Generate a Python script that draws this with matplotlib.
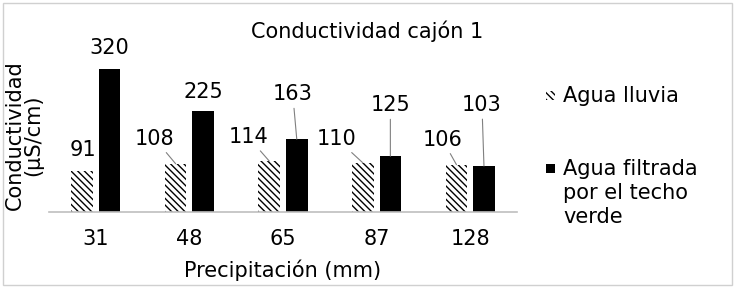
import matplotlib
matplotlib.use("Agg")
import matplotlib.pyplot as plt
import matplotlib.patches as mpatches
import numpy as np

# data
categorias = ["31", "48", "65", "87", "128"]
agua_lluvia = [91, 108, 114, 110, 106]
agua_filtrada = [320, 225, 163, 125, 103]

# label offsets from bar top (pixels, y up) and whether a leader line is drawn
off_lluvia = [(1, 21), (-21, 25), (-21, 24), (-26, 24), (-14, 25)]
lead_lluvia = [False, True, True, True, True]
off_filtrada = [(0, 21), (0, 19), (-4, 45), (0, 51), (-2, 61)]
lead_filtrada = [False, False, True, True, True]

W, H = 736, 288
fs = 15

fig = plt.figure(figsize=(W / 100, H / 100), dpi=100)
ax = fig.add_axes([49 / W, 1 - 212 / H, (517 - 49) / W, (212 - 55.6) / H])

x = np.arange(len(categorias))
bw = 0.23
off = 0.147
ax.bar(x - off, agua_lluvia, bw, color="white", edgecolor="black",
       linewidth=0, hatch="\\\\\\\\\\")
ax.bar(x + off, agua_filtrada, bw, color="black", linewidth=0)

ax.set_xlim(-0.5, len(categorias) - 0.5)
ax.set_ylim(0, 350)

for spine in ["top", "right", "left"]:
    ax.spines[spine].set_visible(False)
ax.spines["bottom"].set_color("#bfbfbf")
ax.spines["bottom"].set_linewidth(1.2)
ax.set_yticks([])
ax.set_xticks(x, categorias)
ax.tick_params(axis="x", length=0, pad=12, labelsize=fs)

gris = "#808080"


def etiquetas(xs, vals, offs, leads):
    for xi, v, (dx, dy), ld in zip(xs, vals, offs, leads):
        kw = {}
        if ld:
            kw["arrowprops"] = dict(arrowstyle="-", color=gris, lw=0.8,
                                    shrinkA=1, shrinkB=0)
        ax.annotate(str(v), xy=(xi, v), xytext=(dx, dy),
                    textcoords="offset pixels", ha="center", va="center",
                    fontsize=fs, **kw)


etiquetas(x - off, agua_lluvia, off_lluvia, lead_lluvia)
etiquetas(x + off, agua_filtrada, off_filtrada, lead_filtrada)

ax.set_xlabel("Precipitación (mm)", fontsize=fs, va="center")
ax.xaxis.set_label_coords(0.5, (212 - 270) / (212 - 55.6))
ax.set_ylabel("Conductividad\n(µS/cm)", fontsize=fs, va="center",
              ha="center", linespacing=0.92)
ax.yaxis.set_label_coords((24 - 49) / (517 - 49), (212 - 135) / (212 - 55.6))

fig.text(367.5 / W, 1 - 31 / H, "Conductividad cajón 1", ha="center",
         va="center", fontsize=fs)

# legend, drawn by hand so the marker sits on the first text line
fig.add_artist(mpatches.Rectangle((546 / W, 1 - 100 / H), 9 / W, 9 / H,
                                  transform=fig.transFigure, facecolor="white",
                                  edgecolor="black", linewidth=0,
                                  hatch="\\\\\\\\\\"))
fig.text(563 / W, 1 - 96 / H, "Agua lluvia", ha="left", va="center",
         fontsize=fs)
fig.add_artist(mpatches.Rectangle((546 / W, 1 - 173 / H), 9 / W, 9 / H,
                                  transform=fig.transFigure, facecolor="black",
                                  linewidth=0))
fig.text(563 / W, 1 - 193 / H, "Agua filtrada\npor el techo\nverde",
         ha="left", va="center", fontsize=fs, linespacing=1.27)

# thin frame around the whole picture
fig.add_artist(mpatches.Rectangle((2.5 / W, 1 - 284.5 / H), 729 / W, 281.5 / H,
                                  transform=fig.transFigure, fill=False,
                                  edgecolor="#d0d0d0", linewidth=1))

fig.savefig("out.png", dpi=100)
